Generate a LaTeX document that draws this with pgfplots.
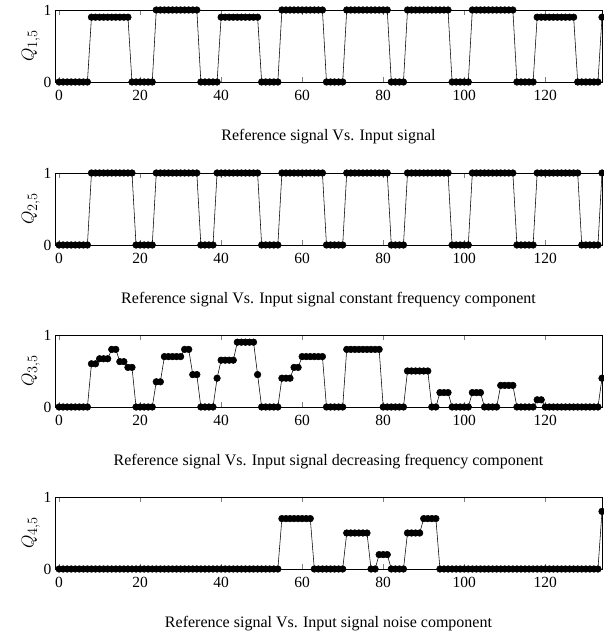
\documentclass[border=0pt]{standalone}
\usepackage{fontspec}
\setmainfont{Liberation Serif}
\usepackage{pgfplots}
\usepackage{pgfplotstable}
\pgfplotsset{compat=1.18}

% x, Q_{1,5}, Q_{2,5}, Q_{3,5}, Q_{4,5}
\pgfplotstableread{
x s1 s2 s3 s4
0 0 0 0 0
1 0 0 0 0
2 0 0 0 0
3 0 0 0 0
4 0 0 0 0
5 0 0 0 0
6 0 0 0 0
7 0 0 0 0
8 0.9 1 0.6 0
9 0.9 1 0.6 0
10 0.9 1 0.67 0
11 0.9 1 0.67 0
12 0.9 1 0.67 0
13 0.9 1 0.8 0
14 0.9 1 0.8 0
15 0.9 1 0.63 0
16 0.9 1 0.63 0
17 0.9 1 0.55 0
18 0 1 0.55 0
19 0 0 0 0
20 0 0 0 0
21 0 0 0 0
22 0 0 0 0
23 0 0 0 0
24 1 1 0.35 0
25 1 1 0.35 0
26 1 1 0.7 0
27 1 1 0.7 0
28 1 1 0.7 0
29 1 1 0.7 0
30 1 1 0.7 0
31 1 1 0.8 0
32 1 1 0.8 0
33 1 1 0.45 0
34 1 1 0.45 0
35 0 0 0 0
36 0 0 0 0
37 0 0 0 0
38 0 0 0 0
39 0 1 0.4 0
40 0.9 1 0.65 0
41 0.9 1 0.65 0
42 0.9 1 0.65 0
43 0.9 1 0.65 0
44 0.9 1 0.9 0
45 0.9 1 0.9 0
46 0.9 1 0.9 0
47 0.9 1 0.9 0
48 0.9 1 0.9 0
49 0.9 1 0.45 0
50 0 0 0 0
51 0 0 0 0
52 0 0 0 0
53 0 0 0 0
54 0 0 0 0
55 1 1 0.4 0.7
56 1 1 0.4 0.7
57 1 1 0.4 0.7
58 1 1 0.55 0.7
59 1 1 0.55 0.7
60 1 1 0.7 0.7
61 1 1 0.7 0.7
62 1 1 0.7 0.7
63 1 1 0.7 0
64 1 1 0.7 0
65 1 1 0.7 0
66 0 0 0 0
67 0 0 0 0
68 0 0 0 0
69 0 0 0 0
70 0 0 0 0
71 1 1 0.8 0.5
72 1 1 0.8 0.5
73 1 1 0.8 0.5
74 1 1 0.8 0.5
75 1 1 0.8 0.5
76 1 1 0.8 0.5
77 1 1 0.8 0
78 1 1 0.8 0
79 1 1 0.8 0.2
80 1 1 0 0.2
81 1 1 0 0.2
82 0 0 0 0
83 0 0 0 0
84 0 0 0 0
85 0 0 0 0
86 1 1 0.5 0.5
87 1 1 0.5 0.5
88 1 1 0.5 0.5
89 1 1 0.5 0.5
90 1 1 0.5 0.7
91 1 1 0.5 0.7
92 1 1 0 0.7
93 1 1 0 0.7
94 1 1 0.2 0
95 1 1 0.2 0
96 1 1 0.2 0
97 0 0 0 0
98 0 0 0 0
99 0 0 0 0
100 0 0 0 0
101 0 0 0 0
102 1 1 0.2 0
103 1 1 0.2 0
104 1 1 0.2 0
105 1 1 0 0
106 1 1 0 0
107 1 1 0 0
108 1 1 0 0
109 1 1 0.3 0
110 1 1 0.3 0
111 1 1 0.3 0
112 1 1 0.3 0
113 0 0 0 0
114 0 0 0 0
115 0 0 0 0
116 0 0 0 0
117 0 0 0 0
118 0.9 1 0.1 0
119 0.9 1 0.1 0
120 0.9 1 0 0
121 0.9 1 0 0
122 0.9 1 0 0
123 0.9 1 0 0
124 0.9 1 0 0
125 0.9 1 0 0
126 0.9 1 0 0
127 0.9 1 0 0
128 0 1 0 0
129 0 0 0 0
130 0 0 0 0
131 0 0 0 0
132 0 0 0 0
133 0 0 0 0
134 0.9 1 0.4 0.8
}\sig

\pgfplotsset{
  panel/.style={
    scale only axis,
    width=547pt, height=72pt,
    anchor=south west,
    xmin=-1, xmax=134,
    ymin=0, ymax=1,
    xtick={0,20,...,120},
    ytick={0,1},
    major tick length=5pt,
    major tick style={gray},
    ytick style={draw=none},
    tick label style={font=\fontsize{15.5}{18}\selectfont},
    xticklabel style={yshift=-5pt},
    /pgf/number format/assume math mode=true,
    label style={font=\fontsize{16}{19}\selectfont},
    xlabel style={at={(axis description cs:0.5,-0.76)}, anchor=center},
    ylabel style={font=\fontsize{19}{22}\selectfont, yshift=-3pt},
    clip=false,
  },
  sigline/.style={black, line width=0.55pt, mark=*, mark size=3.3pt,
    mark options={fill=black}},
}

\begin{document}
\begin{tikzpicture}
\useasboundingbox (-55pt,0pt) rectangle (548pt,639pt);

\begin{axis}[panel, at={(0pt,557pt)},
    ylabel={$Q_{1,5}$},
    xlabel={Reference signal Vs. Input signal}]
  \addplot[sigline] table[x=x, y=s1] {\sig};
\end{axis}

\begin{axis}[panel, at={(0pt,394pt)},
    ylabel={$Q_{2,5}$},
    xlabel={Reference signal Vs. Input signal constant frequency component}]
  \addplot[sigline] table[x=x, y=s2] {\sig};
\end{axis}

\begin{axis}[panel, at={(0pt,232pt)},
    ylabel={$Q_{3,5}$},
    xlabel={Reference signal Vs. Input signal decreasing frequency component}]
  \addplot[sigline] table[x=x, y=s3] {\sig};
\end{axis}

\begin{axis}[panel, at={(0pt,70pt)},
    ylabel={$Q_{4,5}$},
    xlabel={Reference signal Vs. Input signal noise component}]
  \addplot[sigline] table[x=x, y=s4] {\sig};
\end{axis}
\end{tikzpicture}
\end{document}
